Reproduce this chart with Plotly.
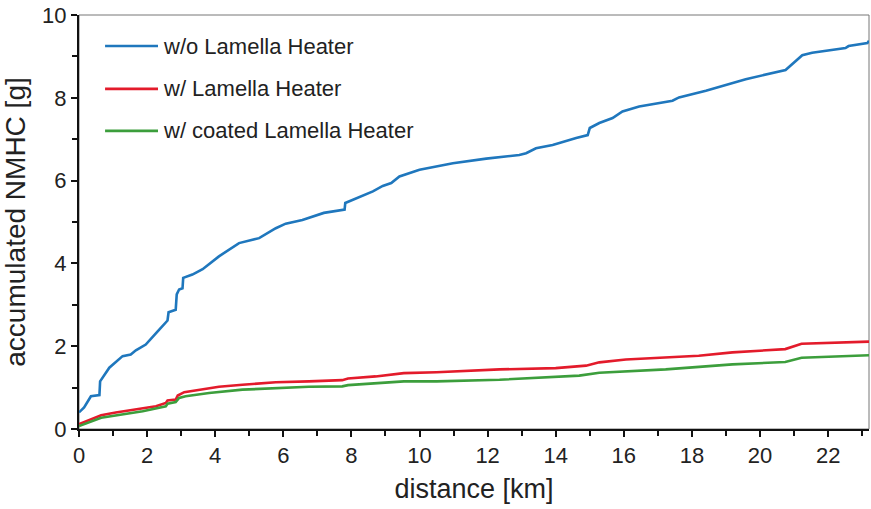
import plotly.graph_objects as go

# distance [km] / accumulated NMHC [g]
blue_x = [0.0, 0.15, 0.35, 0.6, 0.62, 0.89, 1.28, 1.52, 1.67, 1.96, 2.31, 2.6, 2.63, 2.84, 2.87, 2.94, 3.04, 3.06, 3.33, 3.63, 4.11, 4.41, 4.70, 5.29, 5.78, 6.07, 6.56, 7.19, 7.8, 7.82, 8.04, 8.63, 8.92, 9.17, 9.41, 10.0, 10.98, 11.96, 12.93, 13.13, 13.42, 13.91, 14.6, 14.94, 15.0, 15.28, 15.67, 15.96, 16.45, 17.43, 17.62, 18.41, 19.58, 20.75, 21.24, 21.53, 22.51, 22.6, 23.15, 23.2]
blue_y = [0.40, 0.52, 0.79, 0.82, 1.15, 1.48, 1.76, 1.80, 1.90, 2.04, 2.36, 2.62, 2.82, 2.88, 3.25, 3.37, 3.40, 3.65, 3.73, 3.86, 4.17, 4.33, 4.49, 4.61, 4.85, 4.96, 5.05, 5.22, 5.30, 5.46, 5.54, 5.74, 5.87, 5.94, 6.10, 6.26, 6.42, 6.53, 6.62, 6.66, 6.78, 6.86, 7.03, 7.10, 7.27, 7.39, 7.51, 7.67, 7.79, 7.93, 8.01, 8.17, 8.45, 8.67, 9.03, 9.09, 9.20, 9.25, 9.32, 9.38]

red_x = [0.0, 0.5, 0.65, 1.08, 1.87, 2.26, 2.55, 2.6, 2.84, 2.9, 3.09, 3.63, 4.11, 4.8, 5.78, 6.75, 7.73, 7.9, 8.71, 9.54, 10.5, 12.35, 14.0, 14.89, 15.28, 16.06, 17.23, 18.2, 19.19, 20.74, 21.22, 22.1, 23.2]
red_y = [0.12, 0.27, 0.33, 0.40, 0.49, 0.55, 0.63, 0.69, 0.71, 0.81, 0.89, 0.95, 1.02, 1.07, 1.13, 1.15, 1.18, 1.22, 1.27, 1.35, 1.37, 1.44, 1.47, 1.53, 1.61, 1.68, 1.72, 1.77, 1.85, 1.93, 2.06, 2.08, 2.11]

green_x = [0.0, 0.65, 1.87, 2.55, 2.6, 2.84, 2.94, 3.13, 3.82, 4.8, 6.75, 7.73, 7.9, 9.54, 10.5, 12.35, 14.69, 15.28, 17.23, 19.19, 20.74, 21.22, 23.2]
green_y = [0.07, 0.27, 0.43, 0.55, 0.61, 0.65, 0.75, 0.79, 0.87, 0.95, 1.02, 1.03, 1.06, 1.15, 1.15, 1.19, 1.29, 1.36, 1.44, 1.56, 1.62, 1.72, 1.78]

names = ["w/o Lamella Heater", "w/ Lamella Heater", "w/ coated Lamella Heater"]
colors = ["#1f77bd", "#e31b2b", "#3c9e3c"]
series = [(blue_x, blue_y), (red_x, red_y), (green_x, green_y)]

FONT = "Liberation Sans, Arial, sans-serif"
fig = go.Figure()
for (xs, ys), n, c in zip(series, names, colors):
    fig.add_trace(go.Scatter(x=xs, y=ys, mode="lines", name=n,
                             line=dict(color=c, width=2.6), showlegend=False))

axis_common = dict(showgrid=False, zeroline=False, showline=True, linecolor="#111",
                   linewidth=2, ticks="outside", ticklen=6, tickwidth=2, tickcolor="#111",
                   tickfont=dict(family=FONT, size=22, color="#222"))
fig.update_xaxes(range=[0, 23.2], dtick=2, tick0=0,
                 minor=dict(dtick=1, ticks="outside", ticklen=5, tickwidth=2, tickcolor="#111"),
                 title=dict(text="distance [km]", font=dict(family=FONT, size=27, color="#222"), standoff=12),
                 **axis_common)
fig.update_yaxes(range=[0, 10], dtick=2, tick0=0,
                 minor=dict(dtick=1, ticks="outside", ticklen=5, tickwidth=2, tickcolor="#111"),
                 title=dict(text="accumulated NMHC [g]", font=dict(family=FONT, size=28, color="#222"), standoff=8),
                 **axis_common)

# frame
fig.add_shape(type="rect", xref="paper", yref="paper", x0=0, y0=0, x1=1, y1=1,
              line=dict(color="#777", width=1), layer="below")

# manual legend
leg_y = [0.925, 0.8215, 0.72]
for n, c, yy in zip(names, colors, leg_y):
    fig.add_shape(type="line", xref="paper", yref="paper", x0=0.033, x1=0.100, y0=yy, y1=yy,
                  line=dict(color=c, width=2.6))
    fig.add_annotation(xref="paper", yref="paper", x=0.104, y=yy, text=n, showarrow=False,
                       xanchor="left", yanchor="middle",
                       font=dict(family=FONT, size=22, color="#222"))

fig.update_layout(width=871, height=509, margin=dict(l=79, r=2, t=15, b=80),
                  paper_bgcolor="white", plot_bgcolor="white")
fig.write_html("out.html")
